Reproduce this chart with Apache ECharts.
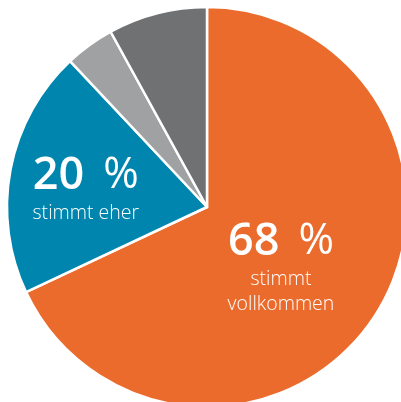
<!DOCTYPE html>
<html>
<head>
<meta charset="utf-8">
<script src="https://cdn.jsdelivr.net/npm/echarts@6/dist/echarts.min.js"></script>
<style>
  html, body { margin: 0; padding: 0; background: #fff; }
  #chart { width: 401px; height: 402px; }
</style>
</head>
<body>
<div id="chart"></div>
<script>
// Antworten (in %), im Uhrzeigersinn ab 12 Uhr
const categories = ['stimmt vollkommen', 'stimmt eher', 'stimmt eher nicht', 'stimmt nicht']
const values = [68, 20, 4, 8]
const labelTexts = ['stimmt\nvollkommen', 'stimmt eher', '', '']
const colorList = ['#EA6B2B', '#0086AE', '#A0A1A3', '#707173']

const chart = echarts.init(document.getElementById('chart'))

const seriesData = categories.map((name, i) => ({
  name: name,
  value: values[i],
  itemStyle: { color: colorList[i] },
  label: {
    show: labelTexts[i] !== '',
    formatter: () => {
      const lines = labelTexts[i].split('\n').map(t => '{small|' + t + '}')
      return '{num|' + values[i] + '}{pct|%}\n' + lines.join('\n')
    }
  }
}))

chart.setOption({
  animation: false,
  series: [
    {
      type: 'pie',
      center: [207, 207],
      radius: [0, 200],
      startAngle: 90,
      clockwise: true,
      data: seriesData,
      itemStyle: {
        borderColor: '#fff',
        borderWidth: 2.5
      },
      label: {
        position: 'inside',
        color: '#fff',
        align: 'center',
        rich: {
          num: {
            fontFamily: 'Open Sans',
            fontWeight: 600,
            fontSize: 45,
            color: '#fff',
            lineHeight: 50
          },
          pct: {
            fontFamily: 'Open Sans',
            fontWeight: 400,
            fontSize: 43,
            color: '#fff',
            lineHeight: 50,
            padding: [0, 0, 0, 19]
          },
          small: {
            fontFamily: 'Open Sans',
            fontWeight: 300,
            fontSize: 19.5,
            color: '#fff',
            lineHeight: 25
          }
        }
      },
      labelLine: { show: false },
      labelLayout: function (params) {
        if (params.dataIndex === 0) return { dx: -13, dy: 5 }
        if (params.dataIndex === 1) return { dx: -20, dy: 1 }
        return {}
      }
    }
  ]
})
</script>
</body>
</html>
